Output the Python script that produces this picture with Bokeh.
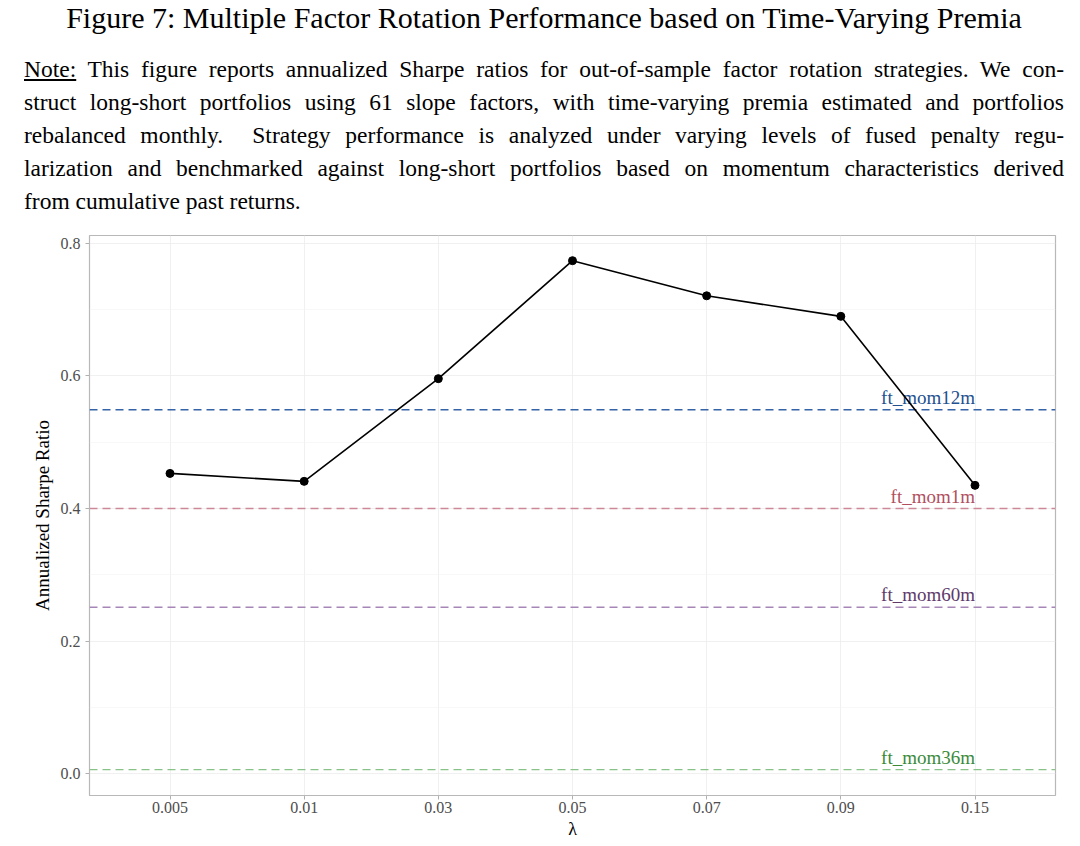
from bokeh.plotting import figure
from bokeh.models import Range1d, FixedTicker, Div, ColumnDataSource
from bokeh.layouts import column
from bokeh.core.properties import value
from bokeh.embed import file_html
from bokeh.resources import INLINE

# ---- data ----
lambdas = ["0.005", "0.01", "0.03", "0.05", "0.07", "0.09", "0.15"]
sharpe = [0.453, 0.441, 0.596, 0.774, 0.721, 0.690, 0.435]
bench_names = ["ft_mom12m", "ft_mom1m", "ft_mom60m", "ft_mom36m"]
bench_values = [0.549, 0.400, 0.251, 0.006]
bench_line_colors = ["#3563a8", "#cc8896", "#a686b6", "#88c288"]
bench_text_colors = ["#23508f", "#b0505f", "#5e3a6b", "#3a8a3a"]
y_ticks = [0.0, 0.2, 0.4, 0.6, 0.8]
y_minor = [0.1, 0.3, 0.5, 0.7]

FONT = "Liberation Serif"

title_text = "Figure 7: Multiple Factor Rotation Performance based on Time-Varying Premia"
note_lines = [
    "<u>Note:</u> This figure reports annualized Sharpe ratios for out-of-sample factor rotation strategies. We con-",
    "struct long-short portfolios using 61 slope factors, with time-varying premia estimated and portfolios",
    "rebalanced monthly.&nbsp; Strategy performance is analyzed under varying levels of fused penalty regu-",
    "larization and benchmarked against long-short portfolios based on momentum characteristics derived",
    "from cumulative past returns.",
]

line_divs = []
for i, ln in enumerate(note_lines):
    last = "left" if i == len(note_lines) - 1 else "justify"
    line_divs.append(
        f'<div style="text-align:justify;text-align-last:{last};white-space:nowrap;">{ln}</div>'
    )

html = (
    f'<div style="font-family:\'{FONT}\';color:#000;width:1040px;margin-left:24px;">'
    f'<div style="text-align:center;font-size:30px;line-height:34px;margin-top:1px;white-space:nowrap;">{title_text}</div>'
    f'<div style="font-size:23.5px;line-height:33px;margin-top:18px;">' + "".join(line_divs) + "</div></div>"
)
div = Div(text=html, width=1072, height=220, margin=(0, 0, 0, 0))

x_idx = list(range(len(lambdas)))

p = figure(
    width=1072, height=621,
    output_backend="svg", toolbar_location=None,
    x_range=Range1d(-0.6, len(lambdas) - 0.4),
    y_range=Range1d(-0.033, 0.812),
    min_border_left=89, min_border_right=17, min_border_top=15, min_border_bottom=46,
    margin=(0, 0, 0, 0),
)
p.background_fill_color = "white"
p.border_fill_color = "white"
p.outline_line_color = "#b8b8b8"
p.outline_line_width = 1.2

# grids
p.xgrid.ticker = FixedTicker(ticks=x_idx)
p.xgrid.grid_line_color = "#ececec"
p.xgrid.grid_line_width = 0.8
p.ygrid.ticker = FixedTicker(ticks=y_ticks, minor_ticks=y_minor)
p.ygrid.grid_line_color = "#ececec"
p.ygrid.grid_line_width = 0.8
p.ygrid.minor_grid_line_color = "#f4f4f4"
p.ygrid.minor_grid_line_width = 0.6

# axes
p.xaxis.ticker = FixedTicker(ticks=x_idx)
p.xaxis.major_label_overrides = {i: s for i, s in enumerate(lambdas)}
p.yaxis.ticker = FixedTicker(ticks=y_ticks)
p.yaxis.major_label_overrides = {t: f"{t:.1f}" for t in y_ticks}
for ax in (p.xaxis, p.yaxis):
    ax.axis_line_color = None
    ax.major_tick_line_color = "#b0b0b0"
    ax.major_tick_out = 4
    ax.major_tick_in = 0
    ax.minor_tick_line_color = None
    ax.major_label_text_font = FONT
    ax.major_label_text_font_size = "16px"
    ax.major_label_text_color = "#4d4d4d"
    ax.axis_label_text_font = FONT
    ax.axis_label_text_font_style = "normal"
    ax.axis_label_text_color = "#000000"
p.xaxis.axis_label_text_font_size = "18px"
p.yaxis.axis_label_text_font_size = "19px"
p.xaxis.major_label_standoff = 2
p.xaxis.axis_label_standoff = 3
p.yaxis.major_label_standoff = 5
p.yaxis.axis_label_standoff = 5
p.xaxis.axis_label = "λ"
p.yaxis.axis_label = "Annualized Sharpe Ratio"

# benchmark lines and labels
for name, v, lc, tc in zip(bench_names, bench_values, bench_line_colors, bench_text_colors):
    p.line(x=[-0.6, len(lambdas) - 0.4], y=[v, v], line_color=lc, line_width=1.4, line_dash="8 5")
src_lab = ColumnDataSource(dict(x=[x_idx[-1]] * len(bench_names), y=bench_values,
                                text=bench_names, color=bench_text_colors))
p.text(x="x", y="y", text="text", source=src_lab, text_color="color",
       text_align="right", text_baseline="bottom", y_offset=-2,
       text_font=value(FONT), text_font_size="19px")

# strategy line
src = ColumnDataSource(dict(x=x_idx, y=sharpe))
p.line(x="x", y="y", source=src, line_color="black", line_width=1.6)
p.scatter(x="x", y="y", source=src, size=8, color="black")

layout = column(div, p, spacing=0)
open("out.html", "w").write(file_html(layout, INLINE))
